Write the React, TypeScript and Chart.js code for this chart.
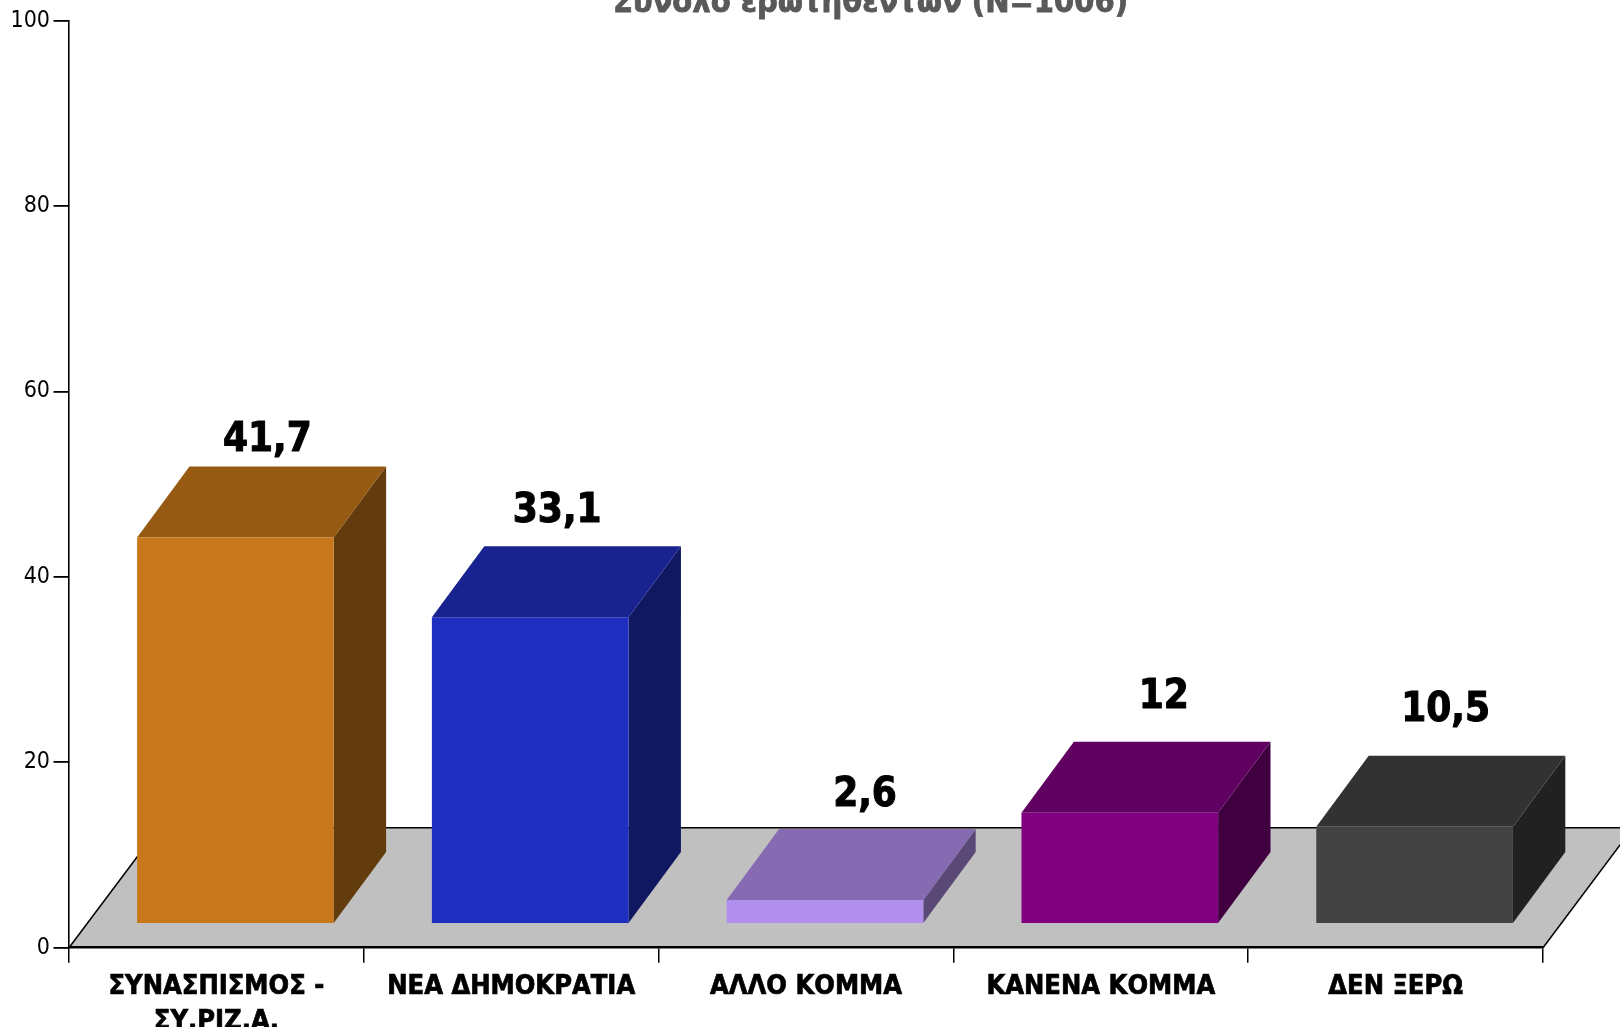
import React, { useEffect, useRef } from "react";
import { Chart, registerables } from "chart.js";

Chart.register(...registerables);

const categories: (string | string[])[] = [
  ["ΣΥΝΑΣΠΙΣΜΟΣ -", "ΣΥ.ΡΙΖ.Α."],
  "ΝΕΑ ΔΗΜΟΚΡΑΤΙΑ",
  "ΑΛΛΟ ΚΟΜΜΑ",
  "ΚΑΝΕΝΑ ΚΟΜΜΑ",
  "ΔΕΝ ΞΕΡΩ",
];
const values = [41.7, 33.1, 2.6, 12, 10.5];
const valueLabels = ["41,7", "33,1", "2,6", "12", "10,5"];
const frontColors = ["#C8781A", "#1E2FC0", "#B18FEE", "#800080", "#434343"];
const topColors = ["#965A13", "#182390", "#866BB2", "#600060", "#323232"];
const sideColors = ["#633C0D", "#0F1860", "#5A4877", "#400040", "#212121"];
const titleText = "Σύνολο ερωτηθέντων (N=1006)";

const labelNudgeX = [51, 46, 59, 63, 50];
const labelNudgeY = [110, 119, 118, 128, 129];

const FRONT_DX = 19;
const FRONT_DY = -23.7;
const DEPTH_DX = 52.4;
const DEPTH_DY = -71;
const FLOOR_DX = 90;
const FLOOR_DY = -120;
const CONDENSED = '"DejaVu Sans Condensed", "DejaVu Sans"';

function poly(ctx: CanvasRenderingContext2D, pts: number[][], fill: string) {
  ctx.beginPath();
  pts.forEach(([x, y], i) => (i ? ctx.lineTo(x, y) : ctx.moveTo(x, y)));
  ctx.closePath();
  ctx.fillStyle = fill;
  ctx.fill();
}

const box3d = {
  id: "box3d",
  beforeDraw(chart: any) {
    const { ctx, chartArea: a } = chart;
    const l = a.left;
    const r = a.right;
    const b = a.bottom;
    ctx.save();
    poly(ctx, [[l, b], [r, b], [r + FLOOR_DX, b + FLOOR_DY], [l + FLOOR_DX, b + FLOOR_DY]], "#C0C0C0");
    ctx.strokeStyle = "#000";
    ctx.lineWidth = 1.5;
    ctx.beginPath();
    ctx.moveTo(l, b);
    ctx.lineTo(l + FLOOR_DX, b + FLOOR_DY);
    ctx.lineTo(r + FLOOR_DX, b + FLOOR_DY);
    ctx.lineTo(r, b);
    ctx.stroke();
    ctx.restore();
  },
  beforeDatasetDraw(chart: any, args: any) {
    const ctx = chart.ctx;
    ctx.save();
    ctx.translate(FRONT_DX, FRONT_DY);
    args.meta.data.forEach((el: any, i: number) => {
      const { x, y, base, width } = el.getProps(["x", "y", "base", "width"], true);
      const x0 = x - width / 2;
      const x1 = x + width / 2;
      poly(ctx, [[x1, y], [x1 + DEPTH_DX, y + DEPTH_DY], [x1 + DEPTH_DX, base + DEPTH_DY], [x1, base]], sideColors[i]);
      poly(ctx, [[x0, y], [x1, y], [x1 + DEPTH_DX, y + DEPTH_DY], [x0 + DEPTH_DX, y + DEPTH_DY]], topColors[i]);
    });
  },
  afterDatasetDraw(chart: any, args: any) {
    const ctx = chart.ctx;
    ctx.restore();
    ctx.save();
    ctx.fillStyle = "#000";
    ctx.strokeStyle = "#000";
    ctx.lineWidth = 1;
    ctx.font = `bold 40px ${CONDENSED}`;
    ctx.textAlign = "center";
    ctx.textBaseline = "alphabetic";
    args.meta.data.forEach((el: any, i: number) => {
      const { x, y } = el.getProps(["x", "y"], true);
      ctx.fillText(valueLabels[i], x + labelNudgeX[i], y - labelNudgeY[i]);
      ctx.strokeText(valueLabels[i], x + labelNudgeX[i], y - labelNudgeY[i]);
    });
    ctx.restore();
  },
  afterDraw(chart: any) {
    const ctx = chart.ctx;
    ctx.save();
    ctx.fillStyle = "#595959";
    ctx.strokeStyle = "#595959";
    ctx.lineWidth = 0.8;
    ctx.font = `bold 32.3px ${CONDENSED}`;
    ctx.textAlign = "center";
    ctx.textBaseline = "alphabetic";
    ctx.fillText(titleText, 870.5, 11.7);
    ctx.strokeText(titleText, 870.5, 11.7);
    ctx.restore();
  },
};

export default function App() {
  const ref = useRef<HTMLCanvasElement>(null);
  useEffect(() => {
    const chart = new Chart(ref.current!, {
      type: "bar",
      data: {
        labels: categories as any,
        datasets: [
          {
            data: values,
            backgroundColor: frontColors,
            borderWidth: 0,
            barPercentage: 0.667,
            categoryPercentage: 1,
            clip: false as any,
          },
        ],
      },
      plugins: [box3d as any],
      options: {
        animation: false,
        responsive: false,
        events: [],
        layout: { padding: { top: 20.7, right: 77, left: 0, bottom: 0 } },
        plugins: { legend: { display: false }, tooltip: { enabled: false }, title: { display: false } },
        scales: {
          y: {
            min: 0,
            max: 100,
            afterFit: (s: any) => {
              s.width = 69;
            },
            ticks: {
              stepSize: 20,
              color: "#000",
              padding: 3.5,
              font: { family: CONDENSED, size: 23 },
            },
            grid: { drawOnChartArea: false, drawTicks: true, tickLength: 15.5, color: "#000", lineWidth: 1.8 },
            border: { display: true, color: "#000", width: 1.6 },
          },
          x: {
            afterFit: (s: any) => {
              s.height = 79.3;
            },
            ticks: {
              color: "#000",
              padding: 7,
              maxRotation: 0,
              autoSkip: false,
              textStrokeColor: "#000",
              textStrokeWidth: 0.7,
              font: { family: CONDENSED, size: 27, weight: "bold", lineHeight: 1.3 },
            },
            grid: { drawOnChartArea: false, drawTicks: true, tickLength: 15, color: "#000", lineWidth: 1.5 },
            border: { display: true, color: "#000", width: 2.5 },
          },
        },
      },
    });
    return () => chart.destroy();
  }, []);
  return (
    <div style={{ position: "fixed", left: 0, top: 0, width: 1620, height: 1027, overflow: "hidden", background: "#fff" }}>
      <canvas ref={ref} width={1620} height={1027} style={{ display: "block" }} />
    </div>
  );
}
